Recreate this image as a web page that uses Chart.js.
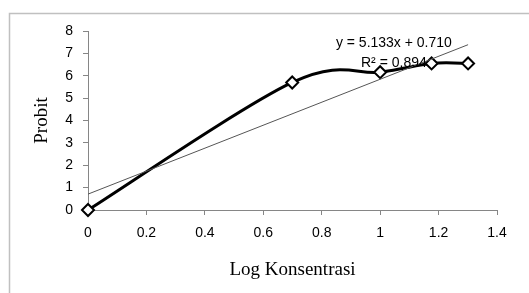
<!DOCTYPE html>
<html>
<head>
<meta charset="utf-8">
<script src="https://cdn.jsdelivr.net/npm/chart.js@4.4.1/dist/chart.umd.min.js"></script>
<style>
  html, body { margin: 0; padding: 0; background: #fff; }
  #wrap { position: relative; width: 529px; height: 293px; }
</style>
</head>
<body>
<div id="wrap"><canvas id="probitChart" width="529" height="293"></canvas></div>
<script>
// data
const logKonsentrasi = [0, 0.699, 1.0, 1.176, 1.301];
const probit = [0, 5.70, 6.16, 6.55, 6.55];
const xTickLabels = ['0', '0.2', '0.4', '0.6', '0.8', '1', '1.2', '1.4'];
const yTickLabels = ['0', '1', '2', '3', '4', '5', '6', '7', '8'];
const slope = 5.133;
const intercept = 0.710;
const rSquared = 0.894;

// linear trendline over the data range
const trendX = [logKonsentrasi[0], logKonsentrasi[logKonsentrasi.length - 1]];
const trendPoints = trendX.map(x => ({ x: x, y: slope * x + intercept }));

const axisColor = '#868686';
const tickFont = { family: "'Liberation Sans', Arial, sans-serif", size: 14 };
const titleFont = { family: "'Liberation Serif', 'Times New Roman', serif", size: 19 };

// Excel-like smoothing: catmull-rom style control points (1/6 of neighbour span)
const excelSmooth = {
    id: 'excelSmooth',
    beforeDatasetDraw(chart, args) {
        if (args.index !== 0) return;
        const meta = args.meta;
        const line = meta.dataset;
        line.updateControlPoints(chart.chartArea, meta.iAxis);
        const pts = meta.data;
        const n = pts.length;
        for (let i = 0; i < n; i++) {
            const prev = pts[Math.max(i - 1, 0)];
            const next = pts[Math.min(i + 1, n - 1)];
            const dx = (next.x - prev.x) / 6;
            const dy = (next.y - prev.y) / 6;
            pts[i].cp1x = pts[i].x - dx;
            pts[i].cp1y = pts[i].y - dy;
            pts[i].cp2x = pts[i].x + dx;
            pts[i].cp2y = pts[i].y + dy;
        }
        line._path = undefined;
    }
};

// outer frame + trendline equation
const decorations = {
    id: 'decorations',
    beforeDraw(chart) {
        const ctx = chart.ctx;
        ctx.save();
        ctx.strokeStyle = '#c0c0c0';
        ctx.lineWidth = 1.5;
        ctx.beginPath();
        ctx.moveTo(9.5, chart.height);
        ctx.lineTo(9.5, 13.5);
        ctx.lineTo(chart.width, 13.5);
        ctx.stroke();
        ctx.restore();
    },
    afterDatasetsDraw(chart) {
        const ctx = chart.ctx;
        const xs = chart.scales.x, ys = chart.scales.y;
        const cx = xs.getPixelForValue(1.047);
        ctx.save();
        ctx.fillStyle = '#000';
        ctx.font = "14px 'Liberation Sans', Arial, sans-serif";
        ctx.textAlign = 'center';
        ctx.textBaseline = 'middle';
        ctx.fillText('y = ' + slope.toFixed(3) + 'x + ' + intercept.toFixed(3), cx, ys.getPixelForValue(7.46));
        ctx.fillText('R² = ' + rSquared.toFixed(3), cx, ys.getPixelForValue(6.57));
        ctx.restore();
    }
};

const ctx = document.getElementById('probitChart').getContext('2d');
new Chart(ctx, {
    type: 'line',
    data: {
        datasets: [
            {
                label: 'Probit',
                data: logKonsentrasi.map((x, i) => ({ x: x, y: probit[i] })),
                borderColor: '#000',
                borderWidth: 3,
                tension: 0.4,
                clip: false,
                pointStyle: 'rectRot',
                pointRadius: 6,
                pointBorderWidth: 2,
                pointBackgroundColor: '#fff',
                pointBorderColor: '#000',
                order: 1
            },
            {
                label: 'Linear',
                data: trendPoints,
                borderColor: '#555',
                borderWidth: 1,
                pointRadius: 0,
                order: 0
            }
        ]
    },
    options: {
        responsive: false,
        animation: false,
        layout: { padding: { left: 0, top: 31, right: 32, bottom: 0 } },
        plugins: {
            legend: { display: false },
            tooltip: { enabled: false }
        },
        scales: {
            x: {
                type: 'linear',
                min: 0,
                max: 1.4,
                afterFit: s => { s.height = 83; },
                ticks: {
                    stepSize: 0.2,
                    color: '#000',
                    font: tickFont,
                    padding: 10,
                    maxRotation: 0,
                    callback: (v, i) => xTickLabels[i]
                },
                grid: { drawOnChartArea: false, drawTicks: true, tickLength: 5, color: axisColor },
                border: { color: axisColor },
                title: {
                    display: true,
                    text: 'Log Konsentrasi',
                    color: '#000',
                    font: titleFont,
                    padding: { top: 0, bottom: 11.6 }
                }
            },
            y: {
                type: 'linear',
                min: 0,
                max: 8,
                afterFit: s => { s.width = 88; },
                ticks: {
                    stepSize: 1,
                    color: '#000',
                    font: tickFont,
                    padding: 10,
                    callback: (v, i) => yTickLabels[i]
                },
                grid: { drawOnChartArea: false, drawTicks: true, tickLength: 5, color: axisColor },
                border: { color: axisColor },
                title: {
                    display: true,
                    text: 'Probit',
                    color: '#000',
                    font: titleFont,
                    padding: { top: 30.6, bottom: 0 }
                }
            }
        }
    },
    plugins: [excelSmooth, decorations]
});
</script>
</body>
</html>
